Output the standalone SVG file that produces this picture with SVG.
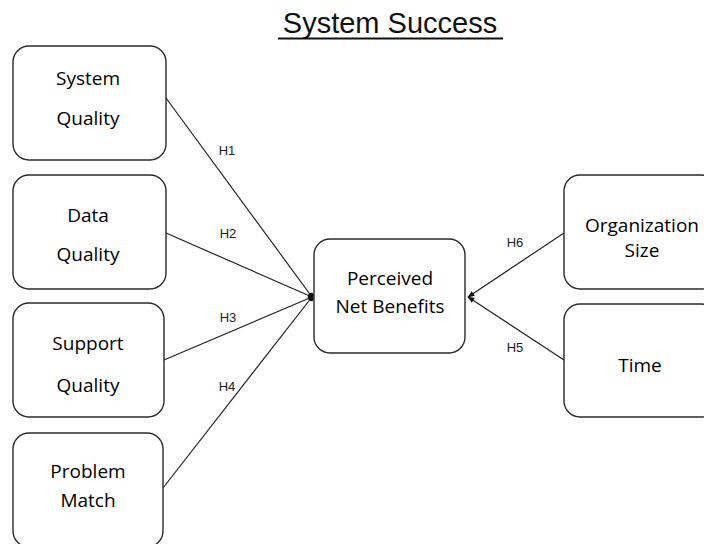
<svg xmlns="http://www.w3.org/2000/svg" width="704" height="544" viewBox="0 0 704 544">
<defs>
<style>
.box{fill:#fff;stroke:#2a2a2a;stroke-width:1.4}
.t{font-family:"Open Sans","Liberation Sans",sans-serif;font-size:19px;fill:#000;text-anchor:middle}
.h{font-family:"Liberation Sans",Arial,sans-serif;font-size:13px;fill:#222;text-anchor:middle}
.c{stroke:#222;stroke-width:1.2;fill:none}
</style>
<marker id="dot" viewBox="0 0 10 10" refX="8" refY="5" markerWidth="6" markerHeight="8" markerUnits="userSpaceOnUse" orient="auto">
<ellipse cx="5" cy="5" rx="4" ry="5" fill="#111"/>
</marker>
<marker id="arr" viewBox="0 0 10 10" refX="9" refY="5" markerWidth="7" markerHeight="7" markerUnits="userSpaceOnUse" orient="auto">
<path d="M0,1 L10,5 L0,9 z" fill="#111"/>
</marker>
</defs>
<rect width="704" height="544" fill="#fff"/>
<g id="title">
<text x="390" y="33" font-family="'Liberation Sans',Arial,sans-serif" font-size="29" fill="#111" text-anchor="middle">System Success</text>
<line x1="278" y1="38.5" x2="503" y2="38.5" stroke="#111" stroke-width="2"/>
</g>
<g id="connectors">
<line class="c" x1="166" y1="98" x2="312" y2="297" marker-end="url(#dot)"/>
<line class="c" x1="166" y1="233" x2="312" y2="297" marker-end="url(#dot)"/>
<line class="c" x1="164" y1="360" x2="312" y2="297" marker-end="url(#dot)"/>
<line class="c" x1="163" y1="488" x2="312" y2="297" marker-end="url(#dot)"/>
<line class="c" x1="564" y1="233" x2="468" y2="297" marker-end="url(#arr)"/>
<line class="c" x1="564" y1="360" x2="468" y2="297" marker-end="url(#arr)"/>
<text class="h" x="227" y="155">H1</text>
<text class="h" x="228" y="238">H2</text>
<text class="h" x="228" y="322">H3</text>
<text class="h" x="227" y="391">H4</text>
<text class="h" x="515" y="247">H6</text>
<text class="h" x="515" y="352">H5</text>
</g>
<g id="system-quality">
<rect class="box" x="13" y="46" width="153" height="114" rx="16"/>
<text class="t" x="88" y="85">System</text>
<text class="t" x="88" y="125">Quality</text>
</g>
<g id="data-quality">
<rect class="box" x="13" y="175" width="153" height="114" rx="16"/>
<text class="t" x="88" y="222">Data</text>
<text class="t" x="88" y="261">Quality</text>
</g>
<g id="support-quality">
<rect class="box" x="13" y="303" width="151" height="114" rx="16"/>
<text class="t" x="88" y="350">Support</text>
<text class="t" x="88" y="392">Quality</text>
</g>
<g id="problem-match">
<rect class="box" x="13" y="433" width="150" height="114" rx="16"/>
<text class="t" x="88" y="478">Problem</text>
<text class="t" x="88" y="507">Match</text>
</g>
<g id="perceived-net-benefits">
<rect class="box" x="314" y="239" width="151" height="114" rx="16"/>
<text class="t" x="390" y="285">Perceived</text>
<text class="t" x="390" y="313">Net Benefits</text>
</g>
<g id="organization-size">
<rect class="box" x="564" y="175" width="153" height="114" rx="16"/>
<text class="t" x="642" y="232">Organization</text>
<text class="t" x="642" y="257">Size</text>
</g>
<g id="time">
<rect class="box" x="564" y="304" width="153" height="113" rx="16"/>
<text class="t" x="640" y="372">Time</text>
</g>
</svg>
